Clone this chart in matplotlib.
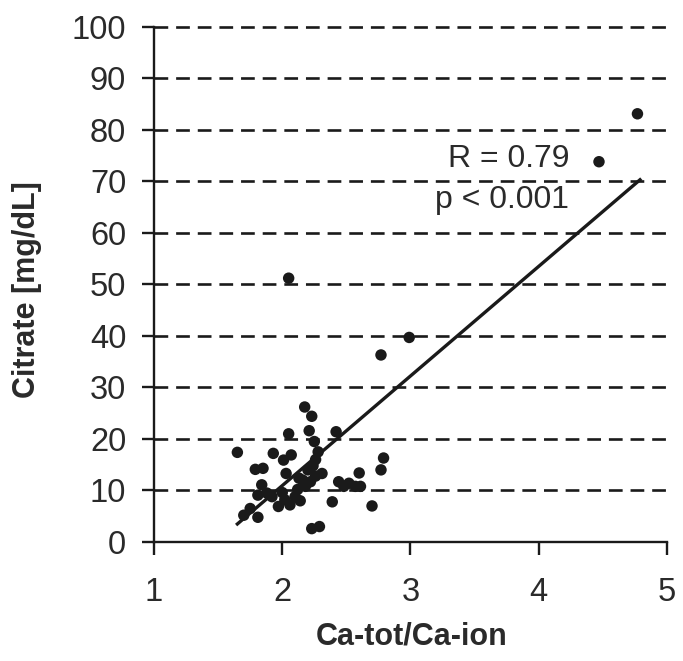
import matplotlib
matplotlib.use('Agg')
import matplotlib.pyplot as plt

plt.rcParams['font.family'] = ['Liberation Sans', 'DejaVu Sans']

# Ca-tot/Ca-ion ratio vs citrate (mg/dL)
ratio = [4.77, 4.47, 2.05, 2.99, 2.77, 2.175, 2.23,
         2.05, 2.21, 2.42, 1.65, 2.25, 2.28, 1.93, 2.07, 2.01, 1.79,
         1.85, 2.03, 2.20, 2.31, 2.13, 2.22, 2.44, 2.52, 1.84, 1.81,
         1.92, 2.02, 2.10, 1.97, 2.06, 1.75, 1.70, 1.81, 2.39, 2.23,
         2.29, 2.79, 2.77, 2.60, 2.57, 2.61, 2.48, 2.70, 2.26, 2.16,
         2.26, 2.18, 2.12, 1.88, 2.00, 2.14, 2.24]
citrate = [83.1, 73.8, 51.2, 39.7, 36.3, 26.2, 24.4,
           21.0, 21.6, 21.4, 17.4, 19.5, 17.5, 17.2, 16.9, 15.9, 14.1,
           14.3, 13.3, 14.0, 13.3, 12.4, 11.7, 11.7, 11.4, 11.1, 9.1,
           8.8, 8.2, 8.8, 6.9, 7.2, 6.5, 5.2, 4.8, 7.8, 2.6,
           3.0, 16.3, 14.0, 13.4, 10.8, 10.8, 10.8, 7.0, 16.0, 12.0,
           12.8, 10.8, 10.2, 9.5, 9.6, 8.0, 14.8]

# regression line end points
fit_x = [1.65, 4.79]
fit_y = [3.5, 70.3]

x_ticks = [1, 2, 3, 4, 5]
y_ticks = [0, 10, 20, 30, 40, 50, 60, 70, 80, 90, 100]

ink = '#1a1a1a'
txt = '#2a2a2a'

fig = plt.figure(figsize=(6.83, 6.61), dpi=100)
ax = fig.add_axes([0.2255, 0.18, 0.751, 0.7796])

ax.set_xlim(1, 5)
ax.set_ylim(0, 100)
ax.set_xticks(x_ticks)
ax.set_yticks(y_ticks)

for y in y_ticks[1:]:
    ax.axhline(y, color=ink, lw=1.9, ls=(0, (5.2, 3.0)), zorder=1,
               clip_on=False)

ax.scatter(ratio, citrate, s=68, color=ink, edgecolors='none', zorder=3)
ax.plot(fit_x, fit_y, color=ink, lw=2.4, zorder=2)

ax.text(4.24, 74.3, 'R = 0.79', ha='right', va='center', fontsize=23,
        color=txt)
ax.text(4.24, 66.3, 'p < 0.001', ha='right', va='center', fontsize=23,
        color=txt)

for s in ('top', 'right'):
    ax.spines[s].set_visible(False)
for s in ('left', 'bottom'):
    ax.spines[s].set_linewidth(1.7)
    ax.spines[s].set_color(ink)

ax.tick_params(axis='both', direction='out', length=9, width=1.7,
               color=ink, labelsize=23.5, labelcolor=txt)
ax.tick_params(axis='y', pad=11)
ax.tick_params(axis='x', pad=16)

ax.set_xlabel('Ca-tot/Ca-ion', fontsize=22, fontweight='bold', color=txt,
              va='center')
ax.set_ylabel('Citrate [mg/dL]', fontsize=22, fontweight='bold', color=txt,
              va='center', rotation_mode='anchor')
ax.xaxis.set_label_coords(0.502, -0.184)
ax.yaxis.set_label_coords(-0.248, 0.489)

fig.savefig('out.png', dpi=100)
